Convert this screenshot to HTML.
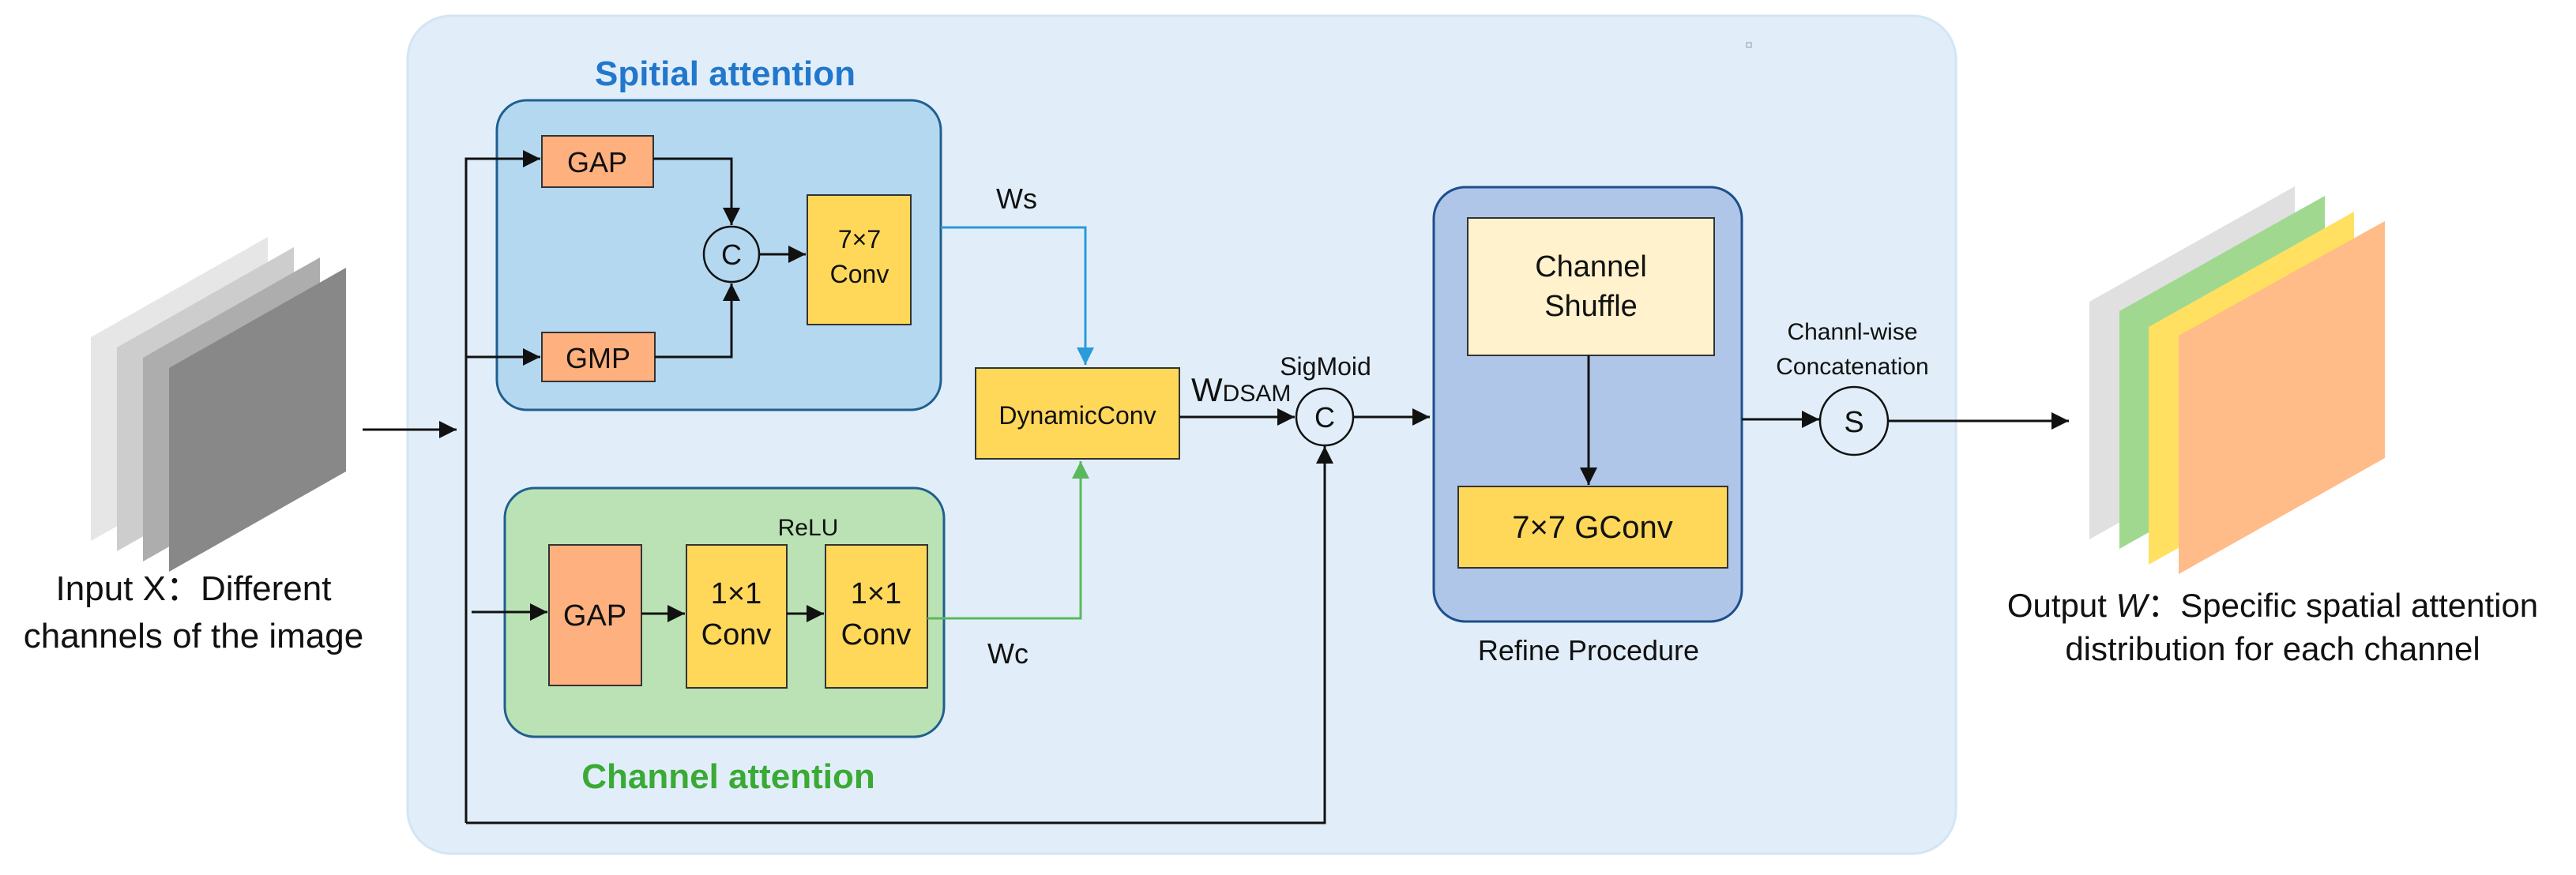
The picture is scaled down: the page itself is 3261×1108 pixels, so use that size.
<!DOCTYPE html>
<html><head><meta charset="utf-8"><style>
html,body{margin:0;padding:0;background:#fff}
svg{display:block}
text{font-family:"Liberation Sans",Arial,sans-serif;fill:#111}
</style></head><body>
<svg width="3261" height="1108" viewBox="0 0 3261 1108" xmlns="http://www.w3.org/2000/svg">
<defs>
<marker id="ak" markerWidth="10" markerHeight="10" refX="9" refY="5" orient="auto" markerUnits="userSpaceOnUse" viewBox="0 0 10 10"><path d="M0,0 L10,5 L0,10 z" fill="#111"/></marker>
<marker id="a" viewBox="0 0 10 10" refX="10" refY="5" markerWidth="24" markerHeight="22" orient="auto" markerUnits="userSpaceOnUse"><path d="M0,0 L10,5 L0,10 z" fill="#111"/></marker>
<marker id="ab" viewBox="0 0 10 10" refX="10" refY="5" markerWidth="24" markerHeight="22" orient="auto" markerUnits="userSpaceOnUse"><path d="M0,0 L10,5 L0,10 z" fill="#2a9ad8"/></marker>
<marker id="ag" viewBox="0 0 10 10" refX="10" refY="5" markerWidth="24" markerHeight="22" orient="auto" markerUnits="userSpaceOnUse"><path d="M0,0 L10,5 L0,10 z" fill="#5cb85c"/></marker>
</defs>

<!-- outer panel -->
<rect x="516" y="20" width="1960" height="1061" rx="55" fill="#e1eef9" stroke="#d3e5f4" stroke-width="3"/>
<rect x="2211" y="54" width="6" height="6" fill="none" stroke="#999" stroke-width="1"/>

<!-- input stack -->
<polygon points="115,427 339,300 339,558 115,685" fill="#e6e6e6"/>
<polygon points="148,440 372,313 372,571 148,698" fill="#cdcdcd"/>
<polygon points="181,453 405,326 405,584 181,711" fill="#adadad"/>
<polygon points="214,466 438,339 438,597 214,724" fill="#888888"/>
<text x="245" y="760" font-size="44" text-anchor="middle">Input X：Different</text>
<text x="245" y="820" font-size="44" text-anchor="middle">channels of the image</text>
<line x1="459" y1="544" x2="578" y2="544" stroke="#111" stroke-width="3" marker-end="url(#a)"/>

<!-- spatial attention -->
<text x="918" y="108" font-size="44" font-weight="bold" text-anchor="middle" style="fill:#2277cc">Spitial attention</text>
<rect x="629" y="127" width="562" height="392" rx="38" fill="#b4d8f0" stroke="#1f5f8f" stroke-width="3"/>
<rect x="686" y="172" width="141" height="65" fill="#ffb07f" stroke="#333" stroke-width="2"/>
<text x="756" y="218" font-size="36" text-anchor="middle">GAP</text>
<rect x="686" y="421" width="143" height="62" fill="#ffb07f" stroke="#333" stroke-width="2"/>
<text x="757" y="466" font-size="36" text-anchor="middle">GMP</text>
<circle cx="926" cy="322" r="35" fill="none" stroke="#111" stroke-width="2.5"/>
<text x="926" y="335" font-size="36" text-anchor="middle">C</text>
<rect x="1022" y="247" width="131" height="164" fill="#ffd85a" stroke="#333" stroke-width="2"/>
<text x="1088" y="314" font-size="32" text-anchor="middle">7×7</text>
<text x="1088" y="358" font-size="32" text-anchor="middle">Conv</text>
<polyline points="827,201 926,201 926,285" fill="none" stroke="#111" stroke-width="3" marker-end="url(#a)"/>
<polyline points="829,452 926,452 926,359" fill="none" stroke="#111" stroke-width="3" marker-end="url(#a)"/>
<line x1="961" y1="322" x2="1020" y2="322" stroke="#111" stroke-width="3" marker-end="url(#a)"/>

<!-- trunk -->
<polyline points="590,1042 590,201 684,201" fill="none" stroke="#111" stroke-width="3" marker-end="url(#a)"/>
<line x1="590" y1="452" x2="684" y2="452" stroke="#111" stroke-width="3" marker-end="url(#a)"/>
<polyline points="590,1042 1677,1042 1677,565" fill="none" stroke="#111" stroke-width="3" marker-end="url(#a)"/>

<!-- channel attention -->
<rect x="639" y="618" width="556" height="315" rx="38" fill="#bbe2b4" stroke="#1f5f8f" stroke-width="3"/>
<text x="1023" y="678" font-size="30" text-anchor="middle">ReLU</text>
<rect x="695" y="690" width="117" height="178" fill="#ffb07f" stroke="#333" stroke-width="2"/>
<text x="753" y="792" font-size="38" text-anchor="middle">GAP</text>
<rect x="869" y="690" width="127" height="181" fill="#ffd85a" stroke="#333" stroke-width="2"/>
<text x="932" y="764" font-size="38" text-anchor="middle">1×1</text>
<text x="932" y="816" font-size="38" text-anchor="middle">Conv</text>
<rect x="1045" y="690" width="129" height="181" fill="#ffd85a" stroke="#333" stroke-width="2"/>
<text x="1109" y="764" font-size="38" text-anchor="middle">1×1</text>
<text x="1109" y="816" font-size="38" text-anchor="middle">Conv</text>
<line x1="597" y1="775" x2="693" y2="775" stroke="#111" stroke-width="3" marker-end="url(#a)"/>
<line x1="812" y1="777" x2="867" y2="777" stroke="#111" stroke-width="3" marker-end="url(#a)"/>
<line x1="996" y1="777" x2="1043" y2="777" stroke="#111" stroke-width="3" marker-end="url(#a)"/>
<text x="922" y="998" font-size="44" font-weight="bold" text-anchor="middle" style="fill:#3aaa35">Channel attention</text>

<!-- dynamic conv -->
<polyline points="1191,288 1374,288 1374,462" fill="none" stroke="#2a9ad8" stroke-width="3" marker-end="url(#ab)"/>
<polyline points="1174,783 1368,783 1368,584" fill="none" stroke="#5cb85c" stroke-width="3" marker-end="url(#ag)"/>
<text x="1287" y="264" font-size="36" text-anchor="middle">Ws</text>
<text x="1276" y="840" font-size="36" text-anchor="middle">Wc</text>
<rect x="1235" y="466" width="258" height="115" fill="#ffd85a" stroke="#333" stroke-width="2"/>
<text x="1364" y="537" font-size="32" text-anchor="middle">DynamicConv</text>
<text x="1508" y="508" font-size="42">W<tspan font-size="30">DSAM</tspan></text>
<text x="1678" y="475" font-size="32" text-anchor="middle">SigMoid</text>
<line x1="1493" y1="528" x2="1639" y2="528" stroke="#111" stroke-width="3" marker-end="url(#a)"/>
<circle cx="1677" cy="528" r="36" fill="none" stroke="#111" stroke-width="2.5"/>
<text x="1677" y="541" font-size="36" text-anchor="middle">C</text>
<line x1="1713" y1="528" x2="1810" y2="528" stroke="#111" stroke-width="3" marker-end="url(#a)"/>

<!-- refine -->
<rect x="1815" y="237" width="390" height="550" rx="40" fill="#afc6e9" stroke="#1e4e8c" stroke-width="3"/>
<rect x="1858" y="276" width="312" height="174" fill="#fff2cc" stroke="#333" stroke-width="2"/>
<text x="2014" y="350" font-size="38" text-anchor="middle">Channel</text>
<text x="2014" y="400" font-size="38" text-anchor="middle">Shuffle</text>
<line x1="2011" y1="450" x2="2011" y2="614" stroke="#111" stroke-width="3" marker-end="url(#a)"/>
<rect x="1846" y="616" width="341" height="103" fill="#ffd85a" stroke="#333" stroke-width="2"/>
<text x="2016" y="681" font-size="40" text-anchor="middle">7×7 GConv</text>
<text x="2011" y="836" font-size="36" text-anchor="middle">Refine Procedure</text>

<!-- S -->
<text x="2345" y="430" font-size="30" text-anchor="middle">Channl-wise</text>
<text x="2345" y="474" font-size="30" text-anchor="middle">Concatenation</text>
<line x1="2205" y1="531" x2="2303" y2="531" stroke="#111" stroke-width="3" marker-end="url(#a)"/>
<circle cx="2347" cy="533" r="43" fill="none" stroke="#111" stroke-width="2.5"/>
<text x="2347" y="547" font-size="38" text-anchor="middle">S</text>
<line x1="2390" y1="533" x2="2619" y2="533" stroke="#111" stroke-width="3" marker-end="url(#a)"/>

<!-- output stack -->
<polygon points="2645,382 2905,236 2905,537 2645,683" fill="#e0e0e0"/>
<polygon points="2683,394 2943,248 2943,549 2683,695" fill="#a0d890"/>
<polygon points="2720,414 2980,268 2980,569 2720,715" fill="#ffe060"/>
<polygon points="2758,425 3019,280 3019,580 2758,727" fill="#ffbb88"/>
<text x="2877" y="781" font-size="42" text-anchor="middle">Output <tspan font-style="italic">W</tspan>：Specific spatial attention</text>
<text x="2877" y="836" font-size="42" text-anchor="middle">distribution for each channel</text>
</svg>
</body></html>
